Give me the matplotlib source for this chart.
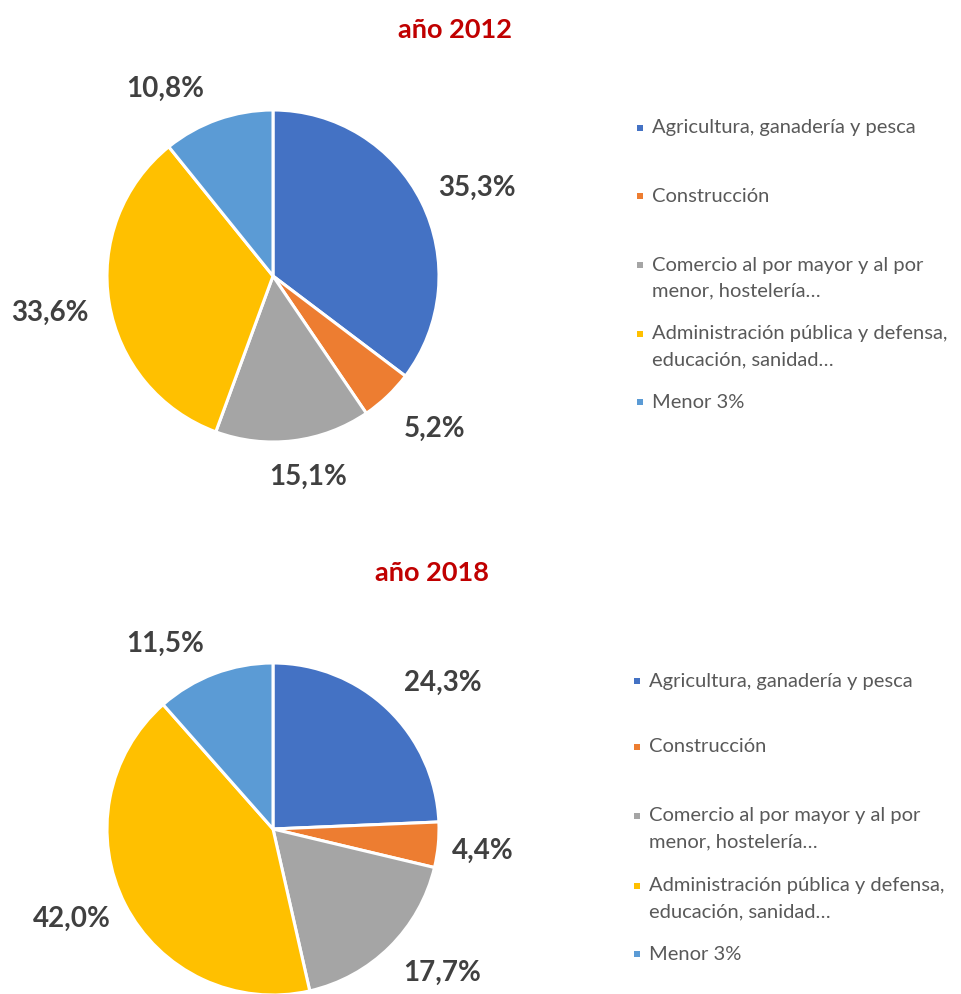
import numpy as np
import matplotlib.pyplot as plt
from matplotlib.patches import Rectangle

# data
sectores = [
    "Agricultura, ganadería y pesca",
    "Construcción",
    "Comercio al por mayor y al por\nmenor, hostelería…",
    "Administración pública y defensa,\neducación, sanidad…",
    "Menor 3%",
]
valores_2012 = [35.3, 5.2, 15.1, 33.6, 10.8]
valores_2018 = [24.3, 4.4, 17.7, 42.0, 11.5]
titulos = ["año 2012", "año 2018"]

colores = ["#4472C4", "#ED7D31", "#A5A5A5", "#FFC000", "#5B9BD5"]

# label placement (radius factor, angle shift in degrees) like Excel "best fit"
etiq_2012 = [(1.34, -3), (1.34, 3), (1.23, 3), (1.36, 0), (1.30, 10.5)]
etiq_2018 = [(1.35, -5.5), (1.27, -0.5), (1.34, 5), (1.33, -3), (1.29, 9.5)]

W, H = 962, 994
plt.rcParams['font.family'] = ['Lato', 'DejaVu Sans']

fig = plt.figure(figsize=(W / 100, H / 100), dpi=100)


def px_axes(x0, y0, w, h):
    # pixel box (top-left origin) -> figure axes
    return fig.add_axes([x0 / W, 1 - (y0 + h) / H, w / W, h / H])


def fy(y):
    return 1 - y / H


def dibujar(valores, titulo, etiq, cy, tx, ty, leg_x, leg_y):
    r = 166
    cx = 273
    ax = px_axes(cx - r, cy - r, 2 * r, 2 * r)
    wedges, _ = ax.pie(valores, colors=colores, startangle=90, counterclock=False,
                       radius=1,
                       wedgeprops=dict(edgecolor="white", linewidth=2.2))
    for w, v, (d, da) in zip(wedges, valores, etiq):
        ang = np.deg2rad((w.theta1 + w.theta2) / 2 + da)
        ax.text(d * np.cos(ang), d * np.sin(ang), f"{v:.1f}%".replace(".", ","),
                ha="center", va="center", fontsize=20, fontweight="bold",
                color="#404040")
    ax.set_xlim(-1, 1)
    ax.set_ylim(-1, 1)
    ax.set_aspect("auto")
    ax.axis("off")

    fig.text(tx / W, fy(ty), titulo, ha="center", va="center",
             fontsize=19.5, fontweight="bold", color="#C00000")

    # legend drawn by hand to follow the uneven spacing of the original
    for nombre, color, y in zip(sectores, colores, leg_y):
        fig.add_artist(Rectangle(((leg_x - 15) / W, fy(y + 3)), 6 / W, 6 / H,
                                 facecolor=color, edgecolor="none",
                                 transform=fig.transFigure))
        for i, linea in enumerate(nombre.split("\n")):
            fig.text(leg_x / W, fy(y + i * 26), linea, ha="left",
                     va="center", fontsize=14.5, color="#595959")


dibujar(valores_2012, titulos[0], etiq_2012, 276, 455, 30, 652,
        [128, 196, 265, 334, 402])
dibujar(valores_2018, titulos[1], etiq_2018, 829, 432, 573, 649,
        [681, 747, 816, 886, 954])

fig.savefig("out.png", dpi=100, facecolor="white")
